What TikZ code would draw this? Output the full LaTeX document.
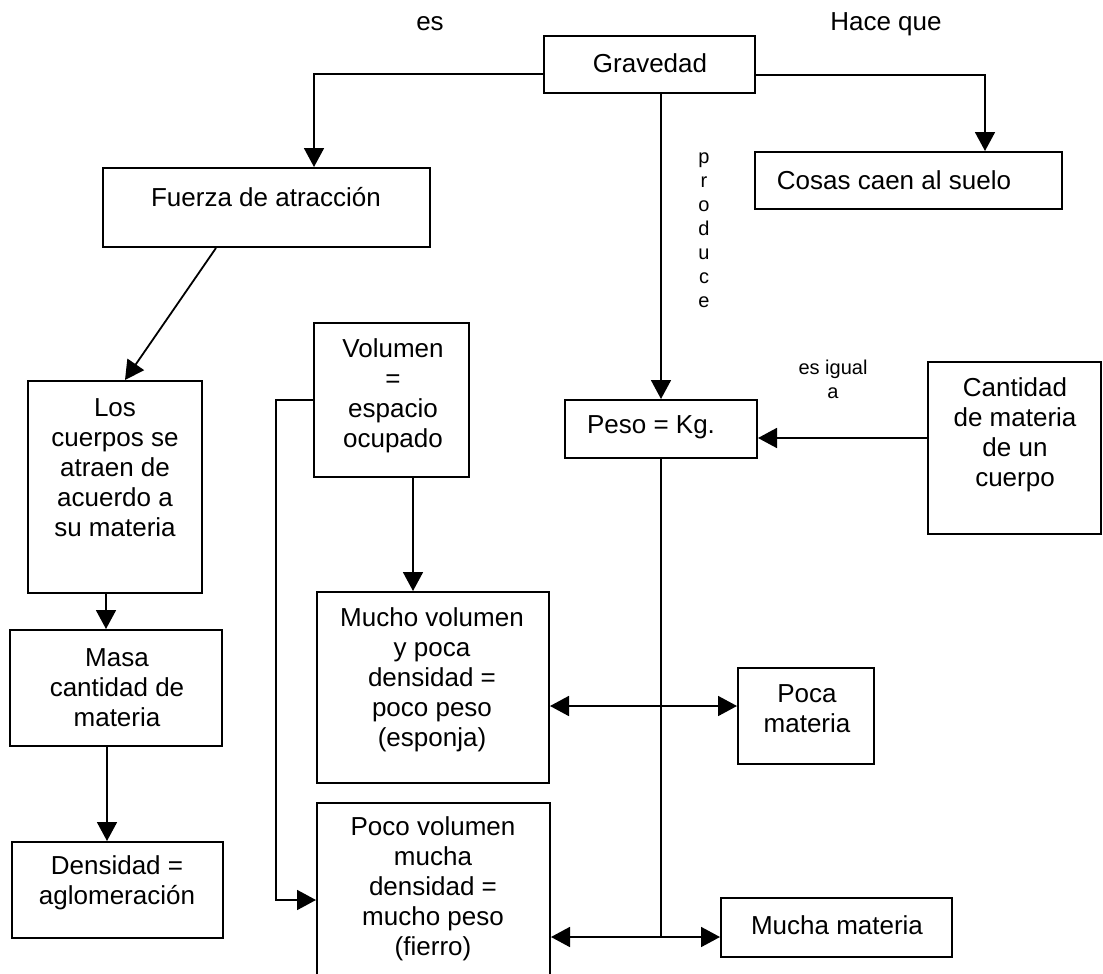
\documentclass[tikz,border=0pt]{standalone}
\usepackage{fontspec}
\setmainfont{Liberation Sans}
\usetikzlibrary{arrows.meta}

\begin{document}
\begin{tikzpicture}[x=1pt, y=-1pt,
		caja/.style={draw, line width=2pt, inner sep=0pt},
		texto/.style={align=center, inner sep=0pt, font=\fontsize{26}{30}\selectfont},
		chico/.style={align=center, inner sep=0pt, font=\fontsize{20}{24}\selectfont},
		linea/.style={line width=1.8pt},
		flecha/.style={linea, -{Triangle[length=19pt,width=20pt]}},
		doble/.style={linea, {Triangle[length=19pt,width=20pt]}-{Triangle[length=19pt,width=20pt]}}]
	\useasboundingbox (0,0) rectangle (1103,974);
	\node[caja, minimum width=211pt, minimum height=57pt] (grav) at (649.5,64.5) {};
	\node[caja, minimum width=307pt, minimum height=57pt] (cosas) at (908.5,180.5) {};
	\node[caja, minimum width=327pt, minimum height=79pt] (fuerza) at (266.5,207.5) {};
	\node[caja, minimum width=192pt, minimum height=58pt] (peso) at (661,429) {};
	\node[caja, minimum width=173pt, minimum height=172pt] (cant) at (1014.5,448) {};
	\node[caja, minimum width=174pt, minimum height=212pt] (los) at (115,487) {};
	\node[caja, minimum width=155pt, minimum height=154pt] (vol) at (391.5,400) {};
	\node[caja, minimum width=232pt, minimum height=191pt] (mucho) at (433,687.5) {};
	\node[caja, minimum width=233pt, minimum height=182pt] (poco) at (433.5,894) {};
	\node[caja, minimum width=212pt, minimum height=116pt] (masa) at (116,688) {};
	\node[caja, minimum width=211pt, minimum height=96pt] (dens) at (117.5,890) {};
	\node[caja, minimum width=136pt, minimum height=96pt] (poca) at (806,716) {};
	\node[caja, minimum width=231pt, minimum height=59pt] (mucha) at (836.5,927.5) {};

	\node[texto] (gravT) at (650,63) {Gravedad};
	\node[texto] (cosasT) at (894,180) {Cosas caen al suelo};
	\node[texto] (fuerzaT) at (266,197) {Fuerza de atracción};
	\node[texto] (pesoT) at (651,427) {Peso = Kg.};
	\node[texto] (cantT) at (1015,435) {Cantidad\\de materia\\de un\\cuerpo};
	\node[texto] (losT) at (115,468) {Los\\cuerpos se\\atraen de\\acuerdo a\\su materia};
	\node[texto] (volT) at (393,396) {Volumen\\=\\espacio\\ocupado};
	\node[texto] (muchoT) at (432,680) {Mucho volumen\\y poca\\densidad =\\poco peso\\(esponja)};
	\node[texto] (pocoT) at (433,889) {Poco volumen\\mucha\\densidad =\\mucho peso\\(fierro)};
	\node[texto] (masaT) at (117,688) {Masa\\cantidad de\\materia};
	\node[texto] (densT) at (117,883) {Densidad =\\aglomeración};
	\node[texto] (pocaT) at (807,709) {Poca\\materia};
	\node[texto] (muchaT) at (837,925) {Mucha materia};

	\node[texto] (es) at (430,24) {es};
	\node[texto] (hace) at (886,24) {Hace que};
	\node[chico] (produce) at (704,230) {p\\r\\o\\d\\u\\c\\e};
	\node[chico] (igual) at (833,379.5) {es igual\\a};

	\draw[flecha] ([yshift=-9.5pt]grav.west) -| ([xshift=47.5pt]fuerza.north);
	\draw[flecha] ([yshift=-10.5pt]grav.east) -| ([xshift=76.5pt]cosas.north);
	\draw[flecha] (peso.north |- grav.south) -- (peso.north);
	\draw[flecha] ([yshift=10pt]cant.west) -- ([yshift=10pt]cant.west -| peso.east);
	\draw[flecha] ([xshift=-50.5pt]fuerza.south) -- ([xshift=10pt]los.north);
	\draw[flecha] ([xshift=-9pt]los.south) -- ([xshift=-10pt]masa.north);
	\draw[flecha] ([xshift=-9pt]masa.south) -- ([xshift=-10.5pt]dens.north);
	\draw[flecha] ([xshift=21.5pt]vol.south) -- ([xshift=-20pt]mucho.north);
	\draw[flecha] (vol.west) -- ++(-37,0) |- ([yshift=-6pt]poco.west);
	\draw[doble] ([yshift=10pt]poca.west -| mucho.east) -- ([yshift=10pt]poca.west);
	\coordinate (cruce) at ([yshift=-9.5pt]mucha.west -| peso.south);
	\draw[linea] (peso.south) -- (cruce);
	\draw[doble] (cruce -| poco.east) -- (cruce -| mucha.west);
\end{tikzpicture}
\end{document}
